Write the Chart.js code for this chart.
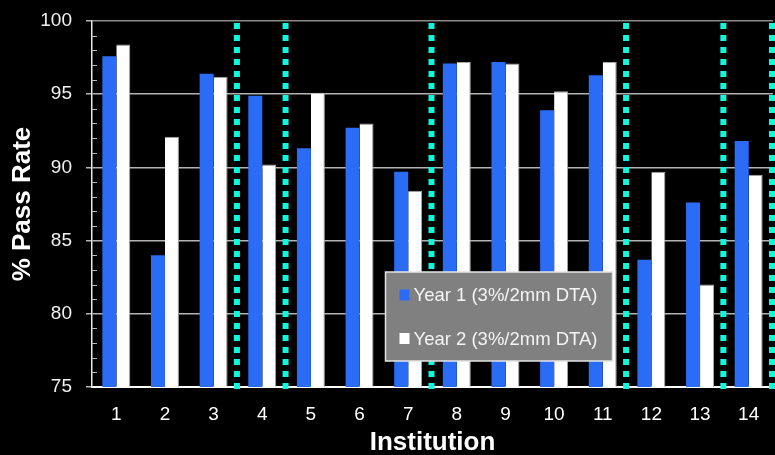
<!DOCTYPE html>
<html>
<head>
<meta charset="utf-8">
<script src="https://cdn.jsdelivr.net/npm/chart.js@4.4.1/dist/chart.umd.min.js"></script>
<style>
  html, body { margin: 0; padding: 0; background: #000; }
  canvas { display: block; }
</style>
</head>
<body>
<canvas id="c" width="775" height="455"></canvas>
<script>
// Pass rates per institution for two audit years
const institutions = ['1', '2', '3', '4', '5', '6', '7', '8', '9', '10', '11', '12', '13', '14'];
const year1 = [97.6, 84.0, 96.4, 94.9, 91.3, 92.7, 89.7, 97.1, 97.2, 93.9, 96.3, 83.7, 87.6, 91.8];
const year2 = [98.4, 92.1, 96.2, 90.2, 95.1, 93.0, 88.4, 97.2, 97.1, 95.2, 97.2, 89.7, 82.0, 89.5];
const seriesLabels = ['Year 1 (3%/2mm DTA)', 'Year 2 (3%/2mm DTA)'];
// Dotted dividers are drawn after these institutions
const dividersAfter = [3, 4, 7, 11, 13, 14];
const yMin = 75, yMax = 100, yStep = 5;

const BLUE = '#2b6cf6';
const WHITE = '#ffffff';
const CYAN = '#10f7dc';

Chart.defaults.font.family = '"Liberation Sans", Arial, Helvetica, sans-serif';
Chart.defaults.color = '#ffffff';

// Small tick marks at each whole percent along the value axis
const minorTicks = {
  id: 'minorTicks',
  beforeDatasetsDraw(chart) {
    const y = chart.scales.y;
    const ctx = chart.ctx;
    const x0 = chart.chartArea.left;
    ctx.save();
    ctx.strokeStyle = '#b8b8b8';
    ctx.lineWidth = 1;
    for (let v = yMin + 1; v < yMax; v++) {
      if (v % yStep === 0) continue;
      const py = Math.round(y.getPixelForValue(v)) + 0.5;
      ctx.beginPath();
      ctx.moveTo(x0, py);
      ctx.lineTo(x0 + 5, py);
      ctx.stroke();
    }
    ctx.restore();
  }
};

// Dotted vertical dividers between institution groups
const dividers = {
  id: 'dividers',
  afterDatasetsDraw(chart) {
    const xs = chart.scales.x;
    const area = chart.chartArea;
    const ctx = chart.ctx;
    ctx.save();
    ctx.strokeStyle = CYAN;
    ctx.lineWidth = 6;
    ctx.setLineDash([6, 6]);
    dividersAfter.forEach(n => {
      const px = xs.getPixelForValue(n - 0.5) - 1;
      ctx.beginPath();
      ctx.moveTo(px, area.top + 2);
      ctx.lineTo(px, area.bottom + 2);
      ctx.stroke();
    });
    ctx.restore();
  }
};

// Boxed legend placed over the plot
const boxLegend = {
  id: 'boxLegend',
  afterDraw(chart, args, opts) {
    const ctx = chart.ctx;
    ctx.save();
    ctx.fillStyle = '#808080';
    ctx.fillRect(opts.x, opts.y, opts.w, opts.h);
    ctx.strokeStyle = '#e4e4e4';
    ctx.lineWidth = 1.5;
    ctx.strokeRect(opts.x, opts.y, opts.w, opts.h);
    ctx.font = '18.5px "Liberation Sans", Arial, sans-serif';
    ctx.textBaseline = 'middle';
    chart.data.datasets.forEach((ds, i) => {
      const cy = opts.y + opts.firstRow + i * opts.rowGap;
      ctx.fillStyle = ds.backgroundColor;
      ctx.fillRect(opts.x + 14, cy - 5.5, 10, 11);
      ctx.fillStyle = '#f4f4f4';
      ctx.fillText(ds.label, opts.x + 28, cy + 1);
    });
    ctx.restore();
  }
};

new Chart(document.getElementById('c'), {
  type: 'bar',
  data: {
    labels: institutions,
    datasets: [
      {
        label: seriesLabels[0],
        data: year1,
        backgroundColor: BLUE,
        borderWidth: 0,
        categoryPercentage: 0.575,
        barPercentage: 1.0
      },
      {
        label: seriesLabels[1],
        data: year2,
        backgroundColor: WHITE,
        borderColor: '#a6a6a6',
        borderWidth: { top: 1, right: 1, left: 0, bottom: 0 },
        borderSkipped: 'bottom',
        categoryPercentage: 0.575,
        barPercentage: 1.0
      }
    ]
  },
  options: {
    responsive: false,
    animation: false,
    devicePixelRatio: 1,
    layout: { padding: { top: 21, right: 2, left: 0, bottom: 0 } },
    plugins: {
      legend: { display: false },
      tooltip: { enabled: false },
      boxLegend: { x: 385.5, y: 272, w: 227, h: 89, firstRow: 23, rowGap: 43.5 }
    },
    scales: {
      x: {
        offset: true,
        grid: { display: false },
        border: { display: true, color: '#ffffff', width: 2 },
        ticks: { color: '#ffffff', font: { size: 19 }, padding: 8, maxRotation: 0 },
        title: {
          display: true,
          text: 'Institution',
          color: '#ffffff',
          font: { size: 26, weight: 'bold', lineHeight: 1 },
          padding: { top: 0, bottom: -1 }
        },
        afterFit(scale) { scale.height = 68; }
      },
      y: {
        min: yMin,
        max: yMax,
        ticks: { stepSize: yStep, color: '#f0f0f0', font: { size: 19 }, padding: 14 },
        grid: {
          color: ctx => (ctx.tick && ctx.tick.value === yMax) ? '#8a8a8a' : '#b4b4b4',
          lineWidth: 1.5,
          drawTicks: true,
          tickLength: 6,
          tickColor: '#b4b4b4'
        },
        border: { display: true, color: '#e8e8e8', width: 1.5 },
        title: {
          display: true,
          text: '% Pass Rate',
          color: '#ffffff',
          font: { size: 26, weight: 'bold', lineHeight: 1 },
          padding: { top: 10, bottom: 0 }
        },
        afterFit(scale) {
          scale.width = 92;
          scale.paddingTop = 0;
          scale.paddingBottom = 0;
        }
      }
    }
  },
  plugins: [minorTicks, dividers, boxLegend]
});
</script>
</body>
</html>
